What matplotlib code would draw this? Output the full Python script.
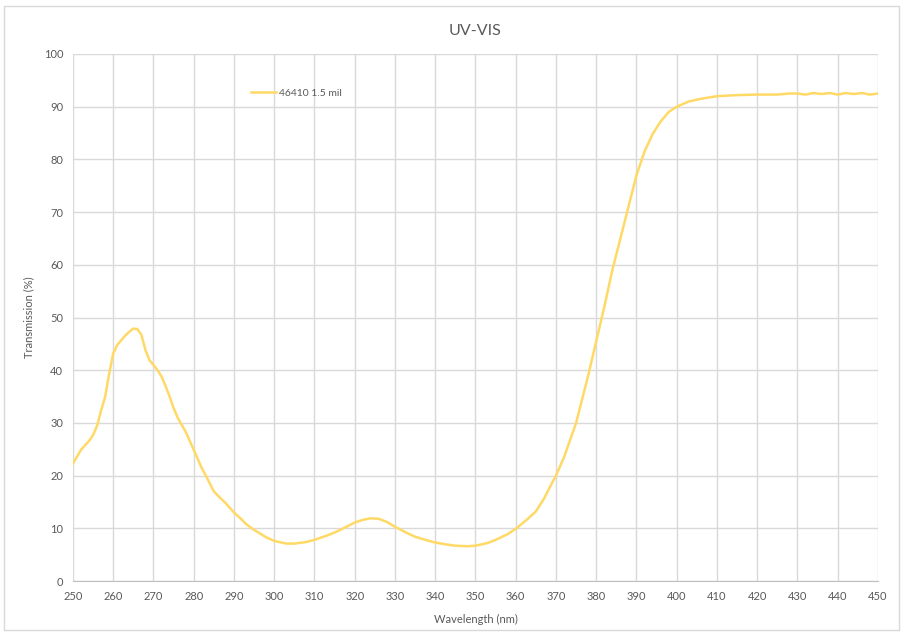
import numpy as np
import matplotlib.pyplot as plt
from matplotlib.patches import Rectangle

plt.rcParams['font.family'] = ['Lato', 'DejaVu Sans']

# wavelength (nm) and transmission (%)
wavelength = [250, 252, 254, 255, 256, 257, 258, 259, 260, 261, 262, 263, 264, 265, 266, 267, 268, 269, 270,
              271, 272, 273, 274, 275, 276, 278, 280, 282, 283, 284, 285, 286, 288, 290, 292, 293, 295, 298, 300,
              303, 305, 308, 310, 313, 315, 318, 320, 322, 324, 326, 328, 330, 332, 333, 335,
              338, 340, 343, 345, 348, 350, 353, 355, 358, 360, 363, 365, 367, 369, 370,
              372, 375, 378, 380, 382, 384, 386, 388, 390, 392, 394, 396, 398, 400, 403,
              406, 410, 415, 420, 425, 428, 430, 432, 434, 436, 438, 440, 442, 444, 446,
              448, 450]
transmission = [22.3, 24.9, 26.6, 27.7, 29.5, 32.4, 35.0, 39.4, 43.2, 44.8, 45.7, 46.6, 47.3, 47.9, 47.8, 46.7, 43.8, 41.9, 41.0,
                40.0, 38.8, 37.0, 35.0, 32.8, 31.0, 28.3, 24.9, 21.4, 20.0, 18.5, 17.0, 16.2, 14.7, 13.0, 11.6, 10.8, 9.7, 8.3, 7.6,
                7.1, 7.1, 7.4, 7.8, 8.6, 9.2, 10.3, 11.1, 11.6, 11.9, 11.8, 11.2, 10.3, 9.5, 9.1, 8.4,
                7.7, 7.3, 6.9, 6.7, 6.6, 6.7, 7.2, 7.8, 8.9, 9.9, 11.8, 13.2, 15.6, 18.6, 20.0,
                23.5, 30.0, 39.0, 45.5, 52.0, 59.0, 65.0, 71.0, 77.0, 81.5, 84.8, 87.2, 89.0, 90.0, 91.0,
                91.5, 92.0, 92.2, 92.3, 92.3, 92.5, 92.5, 92.3, 92.6, 92.4, 92.6, 92.3, 92.6, 92.4, 92.6,
                92.3, 92.5]

x_ticks = np.arange(250, 451, 10)
y_ticks = np.arange(0, 101, 10)

fig = plt.figure(figsize=(9.04, 6.34), dpi=100)
ax = fig.add_axes([73 / 904, 53 / 634, 805 / 904, 527 / 634])

ax.plot(wavelength, transmission, color='#FFD966', lw=1.8, label='46410 1.5 mil')

ax.set_xlim(250, 450)
ax.set_ylim(0, 100)
ax.set_xticks(x_ticks)
ax.set_yticks(y_ticks)
ax.grid(True, color='#d9d9d9', lw=1)
ax.set_axisbelow(True)
for s in ['top', 'right', 'left']:
    ax.spines[s].set_visible(False)
ax.spines['bottom'].set_color('#bfbfbf')
ax.tick_params(length=0, labelsize=8, labelcolor='#595959', pad=7)

ax.set_title('UV-VIS', fontsize=11.5, color='#595959', pad=14)
ax.set_xlabel('Wavelength (nm)', fontsize=8, color='#595959', labelpad=9)
ax.set_ylabel('Transmission (%)', fontsize=8, color='#595959', labelpad=7)

leg = ax.legend(loc='center left', bbox_to_anchor=(0.215, 0.926), frameon=False,
                fontsize=7.5, handlelength=2.4, handletextpad=0.3, borderpad=0)
for t in leg.get_texts():
    t.set_color('#595959')

fig.patches.append(Rectangle((4 / 904, 4 / 634), 895 / 904, 624 / 634, transform=fig.transFigure,
                             fill=False, edgecolor='#d9d9d9', lw=1))

fig.savefig('out.png', dpi=100)
